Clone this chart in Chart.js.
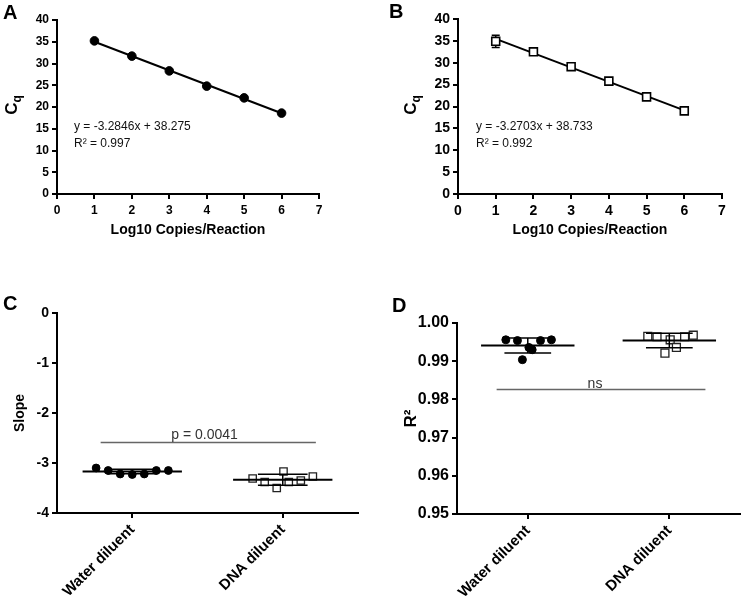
<!DOCTYPE html>
<html>
<head>
<meta charset="utf-8">
<script src="https://cdn.jsdelivr.net/npm/chart.js@4.4.0/dist/chart.umd.min.js"></script>
<style>
  body { margin: 0; background: #fff; width: 747px; height: 601px; position: relative; overflow: hidden; }
  canvas { position: absolute; }
</style>
</head>
<body>
<canvas id="cA" style="left:0;top:0"></canvas>
<canvas id="cB" style="left:374px;top:0"></canvas>
<canvas id="cC" style="left:0;top:290px"></canvas>
<canvas id="cD" style="left:374px;top:290px"></canvas>
<script>
// standard curves (A: water diluent, B: DNA diluent)
const log10Copies = [1, 2, 3, 4, 5, 6];
const cqWater = [35.2, 31.7, 28.3, 24.8, 22.1, 18.6];
const cqDna = [34.9, 32.5, 29.1, 25.8, 22.2, 19.0];
const cqDnaErr = [1.4, 0, 0, 0, 0, 0];
const fitX = [1, 6];
const fitWater = [34.99, 18.57];
const fitDna = [35.46, 19.11];

// replicate curves (C: slope, D: R2)
const groups = ['Water diluent', 'DNA diluent'];
const slopeWaterJitter = [-0.24, -0.16, -0.08, 0, 0.08, 0.16, 0.24];
const slopeWater = [-3.10, -3.15, -3.22, -3.23, -3.22, -3.15, -3.15];
const slopeDnaJitter = [-0.20, -0.12, -0.04, 0.005, 0.04, 0.12, 0.20];
const slopeDna = [-3.31, -3.38, -3.50, -3.17, -3.38, -3.35, -3.27];
const slopeMean = [-3.17, -3.335];
const slopeSd = [0.045, 0.11];

const r2WaterJitter = [-0.155, -0.073, 0.008, 0.031, 0.09, 0.167, -0.038];
const r2Water = [0.9956, 0.9954, 0.9936, 0.9930, 0.9954, 0.9956, 0.9904];
const r2DnaJitter = [-0.152, -0.087, 0.006, 0.05, -0.031, 0.108, 0.169];
const r2Dna = [0.9965, 0.9964, 0.9956, 0.9936, 0.9921, 0.9964, 0.9968];
const r2Mean = [0.99413, 0.99544];
const r2Sd = [0.00197, 0.0019];

const FAM = "'Liberation Sans', Arial, Helvetica, sans-serif";
Chart.defaults.font.family = FAM;
Chart.defaults.color = '#000';
Chart.defaults.animation = false;
Chart.defaults.plugins.legend.display = false;
Chart.defaults.plugins.tooltip.enabled = false;

function pts(xs, ys) { return xs.map((x, i) => ({ x: x, y: ys[i] })); }
function jittered(g, offs, ys) { return offs.map((o, i) => ({ x: g + o, y: ys[i] })); }

function axis(size, extra) {
  return Object.assign({
    border: { display: true, color: '#000', width: 2 },
    grid: { display: true, drawOnChartArea: false, drawTicks: true, tickLength: 5, color: '#000', lineWidth: 2 },
    ticks: { color: '#000', font: { size: size, weight: 'bold' }, padding: 3 }
  }, extra);
}

function drawCq(ctx, x, y, size) {
  ctx.save();
  ctx.translate(x, y);
  ctx.rotate(-Math.PI / 2);
  ctx.fillStyle = '#000';
  ctx.textBaseline = 'alphabetic';
  ctx.font = 'bold ' + size + 'px ' + FAM;
  const wC = ctx.measureText('C').width;
  ctx.font = 'bold ' + Math.round(size * 0.72) + 'px ' + FAM;
  const wq = ctx.measureText('q').width;
  const start = -(wC + wq) / 2;
  ctx.font = 'bold ' + size + 'px ' + FAM;
  ctx.fillText('C', start, 0);
  ctx.font = 'bold ' + Math.round(size * 0.72) + 'px ' + FAM;
  ctx.fillText('q', start + wC, size * 0.25);
  ctx.restore();
}

function decor(letter, lx, ly, more) {
  return {
    id: 'decor',
    afterDraw(chart) {
      const ctx = chart.ctx;
      ctx.save();
      ctx.fillStyle = '#000';
      ctx.textBaseline = 'alphabetic';
      ctx.textAlign = 'left';
      ctx.font = 'bold 20px ' + FAM;
      ctx.fillText(letter, lx, ly);
      if (more) more(chart, ctx);
      ctx.restore();
    }
  };
}

function equation(ctx, x, y, eq, r2) {
  ctx.font = '12px ' + FAM;
  ctx.fillStyle = '#111';
  ctx.fillText(eq, x, y);
  ctx.fillText(r2, x, y + 17);
}

const errorBars = {
  id: 'errorBars',
  beforeDatasetsDraw(chart) {
    const { ctx, scales: { x, y } } = chart;
    ctx.save();
    ctx.strokeStyle = '#000';
    ctx.lineWidth = 1.5;
    log10Copies.forEach((v, i) => {
      const e = cqDnaErr[i];
      if (!e) return;
      const px = x.getPixelForValue(v);
      const t = y.getPixelForValue(cqDna[i] + e), b = y.getPixelForValue(cqDna[i] - e);
      ctx.beginPath();
      ctx.moveTo(px, t); ctx.lineTo(px, b);
      ctx.moveTo(px - 4, t); ctx.lineTo(px + 4, t);
      ctx.moveTo(px - 4, b); ctx.lineTo(px + 4, b);
      ctx.stroke();
    });
    ctx.restore();
  }
};

function summary(means, sds, sig) {
  return {
    id: 'summary',
    afterDatasetsDraw(chart) {
      const { ctx, scales: { x, y } } = chart;
      ctx.save();
      ctx.strokeStyle = '#000';
      means.forEach((m, g) => {
        const my = y.getPixelForValue(m);
        ctx.lineWidth = 2;
        ctx.beginPath();
        ctx.moveTo(x.getPixelForValue(g - 0.33), my);
        ctx.lineTo(x.getPixelForValue(g + 0.33), my);
        ctx.stroke();
        const t = y.getPixelForValue(m + sds[g]), b = y.getPixelForValue(m - sds[g]);
        const l = x.getPixelForValue(g - 0.165), r = x.getPixelForValue(g + 0.165), c = x.getPixelForValue(g);
        ctx.lineWidth = 1.5;
        ctx.beginPath();
        ctx.moveTo(l, t); ctx.lineTo(r, t);
        ctx.moveTo(l, b); ctx.lineTo(r, b);
        ctx.moveTo(c, t); ctx.lineTo(c, b);
        ctx.stroke();
      });
      const sy = y.getPixelForValue(sig.y);
      ctx.strokeStyle = '#666';
      ctx.lineWidth = 1.3;
      ctx.beginPath();
      ctx.moveTo(x.getPixelForValue(sig.from), sy);
      ctx.lineTo(x.getPixelForValue(sig.to), sy);
      ctx.stroke();
      ctx.fillStyle = '#333';
      ctx.font = '14px ' + FAM;
      ctx.textAlign = 'center';
      ctx.textBaseline = 'alphabetic';
      ctx.fillText(sig.text, x.getPixelForValue(sig.at), sy - sig.gap);
      ctx.restore();
    }
  };
}

function curveChart(id, h, pad, yW, tickSize, pointsData, fitData, pointStyle, plugins) {
  return new Chart(document.getElementById(id), {
    type: 'scatter',
    data: {
      datasets: [
        {
          data: pointsData,
          pointStyle: pointStyle,
          pointRadius: pointStyle === 'rect' ? 5.6 : 4.3,
          pointBackgroundColor: pointStyle === 'rect' ? '#fff' : '#000',
          pointBorderColor: '#000',
          pointBorderWidth: pointStyle === 'rect' ? 1.6 : 1
        },
        {
          data: fitData,
          showLine: true,
          borderColor: '#000',
          borderWidth: 2,
          pointRadius: 0
        }
      ]
    },
    options: {
      responsive: false,
      layout: { padding: pad },
      scales: {
        x: axis(tickSize, {
          type: 'linear', min: 0, max: 7,
          ticks: { color: '#000', font: { size: tickSize, weight: 'bold' }, padding: 4, stepSize: 1 },
          title: { display: true, text: 'Log10 Copies/Reaction', font: { size: 14, weight: 'bold' }, padding: { top: 0, bottom: 11 } },
          afterFit(s) { s.height = h - 194; }
        }),
        y: axis(tickSize, {
          min: 0, max: 40,
          ticks: { color: '#000', font: { size: tickSize, weight: 'bold' }, padding: 3, stepSize: 5 },
          afterFit(s) { s.width = yW; }
        })
      }
    },
    plugins: plugins
  });
}

function groupChart(id, pad, yW, xH, tickSize, yOpts, title, titleSize, titlePad, waterData, dnaData, circleR, rectR, plugins) {
  return new Chart(document.getElementById(id), {
    type: 'scatter',
    data: {
      datasets: [
        { data: waterData, pointStyle: 'circle', pointRadius: circleR, pointBackgroundColor: '#000', pointBorderColor: '#000', pointBorderWidth: 1 },
        { data: dnaData, pointStyle: 'rect', pointRadius: rectR, pointBackgroundColor: '#fff', pointBorderColor: '#222', pointBorderWidth: 1.3 }
      ]
    },
    options: {
      responsive: false,
      layout: { padding: pad },
      scales: {
        x: axis(tickSize, {
          type: 'linear', min: -0.5, max: 1.5,
          ticks: {
            color: '#000', font: { size: 15, weight: 'bold' }, padding: 3,
            autoSkip: false, minRotation: 45, maxRotation: 45,
            callback: v => groups[v]
          },
          afterBuildTicks(s) { s.ticks = [{ value: 0 }, { value: 1 }]; },
          afterFit(s) { s.height = xH; }
        }),
        y: axis(tickSize, Object.assign({
          title: { display: true, text: title, font: { size: titleSize, weight: 'bold' }, padding: { top: titlePad, bottom: 0 } },
          afterFit(s) { s.width = yW; }
        }, yOpts))
      }
    },
    plugins: plugins
  });
}

function sizeCanvas(id, w, h) {
  const c = document.getElementById(id);
  c.width = w; c.height = h;
  c.style.width = w + 'px'; c.style.height = h + 'px';
}
sizeCanvas('cA', 374, 250);
sizeCanvas('cB', 373, 250);
sizeCanvas('cC', 374, 311);
sizeCanvas('cD', 373, 311);

curveChart('cA', 250, { left: 0, right: 55, top: 20, bottom: 0 }, 57, 12,
  pts(log10Copies, cqWater), pts(fitX, fitWater), 'circle',
  [decor('A', 3, 19, (chart, ctx) => {
    drawCq(ctx, 17, 105, 17);
    equation(ctx, 74, 130, 'y = -3.2846x + 38.275', 'R\u00b2 = 0.997');
  })]);

curveChart('cB', 250, { left: 0, right: 25, top: 19, bottom: 0 }, 84, 14,
  pts(log10Copies, cqDna), pts(fitX, fitDna), 'rect',
  [errorBars, decor('B', 15, 18, (chart, ctx) => {
    drawCq(ctx, 42, 105, 17);
    equation(ctx, 102, 130, 'y = -3.2703x + 38.733', 'R\u00b2 = 0.992');
  })]);

groupChart('cC', { left: 0, right: 16, top: 23, bottom: 0 }, 57, 88, 14,
  { min: -4, max: 0, ticks: { color: '#000', font: { size: 14, weight: 'bold' }, padding: 3, stepSize: 1 } },
  'Slope', 14, 12,
  jittered(0, slopeWaterJitter, slopeWater), jittered(1, slopeDnaJitter, slopeDna), 3.9, 5.2,
  [summary(slopeMean, slopeSd, { y: -2.59, from: -0.21, to: 1.22, at: 0.48, gap: 3.5, text: 'p = 0.0041' }),
   decor('C', 3, 20)]);

groupChart('cD', { left: 0, right: 1, top: 33, bottom: 0 }, 83, 87, 16,
  { min: 0.95, max: 1.0, ticks: { color: '#000', font: { size: 16, weight: 'bold' }, padding: 3, stepSize: 0.01, callback: v => v.toFixed(2) } },
  'R\u00b2', 17, 27,
  jittered(0, r2WaterJitter, r2Water), jittered(1, r2DnaJitter, r2Dna), 4, 5.6,
  [summary(r2Mean, r2Sd, { y: 0.98259, from: -0.22, to: 1.255, at: 0.475, gap: 2, text: 'ns' }),
   decor('D', 18, 22)]);
</script>
</body>
</html>
